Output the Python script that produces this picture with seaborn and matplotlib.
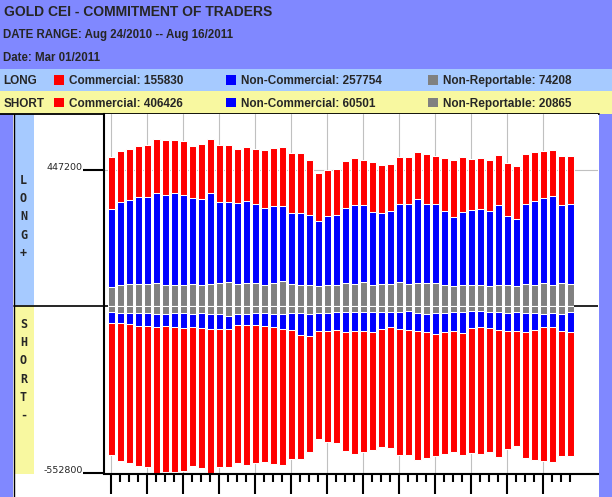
import numpy as np
import pandas as pd
import matplotlib
matplotlib.use("Agg")
import matplotlib.pyplot as plt
from matplotlib.patches import Rectangle
import seaborn as sns

# weekly positions, Aug 24/2010 .. Aug 16/2011
weeks = np.arange(52)

long_comm = [173800, 169400, 169400, 170500, 173800, 179300, 180400, 176000, 177100, 173800,
             182600, 179300, 189200, 189200, 180400, 180400, 183700, 193600, 191400, 194700,
             200200, 200200, 183700, 159500, 154000, 154000, 157300, 155830, 150700, 167200,
             160600, 157300, 157300, 157300, 157300, 167200, 160600, 177100, 190300, 183700,
             170500, 170500, 170500, 167200, 177100, 177100, 167200, 163900, 157300, 154000,
             163900, 160600]
long_noncomm = [257400, 275000, 276100, 286000, 286000, 297000, 299200, 303600, 299200, 282700,
                283800, 299200, 268400, 265100, 267300, 270600, 260700, 254100, 256300, 249700,
                234300, 237600, 231000, 215600, 227700, 231000, 247500, 257754, 254100, 240900,
                234300, 240900, 257400, 264000, 277200, 260700, 260700, 244200, 227700, 240900,
                247500, 250800, 247500, 264000, 227700, 221100, 264000, 277200, 280500, 293700,
                257400, 264000]
long_nonrep = [61600, 68200, 72600, 72600, 72600, 74800, 68200, 68200, 68200, 72600,
               68200, 72600, 74800, 78100, 71500, 74800, 74800, 68200, 74800, 81400,
               71500, 68200, 68200, 64900, 68200, 68200, 74800, 74208, 78100, 68200,
               71500, 71500, 78100, 71500, 74800, 74800, 74800, 68200, 64900, 68200,
               68200, 68200, 64900, 68200, 68200, 64900, 71500, 68200, 74800, 68200,
               74800, 71500]

short_comm = [436700, 456500, 458700, 463100, 466400, 482900, 481800, 477400, 470800, 457600,
              460900, 474100, 454300, 455400, 454300, 460900, 454300, 447700, 449900, 447700,
              424600, 408100, 381700, 355300, 365200, 371800, 391600, 406426, 398200, 388300,
              388300, 398200, 414700, 411400, 424600, 414700, 401500, 401500, 397100, 401500,
              411400, 416900, 407000, 418000, 388300, 378400, 414700, 427900, 441100, 444400,
              411400, 408100]
short_noncomm = [36300, 33000, 36300, 42900, 42900, 41800, 39600, 46200, 49500, 44000,
                 51700, 50600, 50600, 42900, 36300, 36300, 38500, 41800, 44000, 49500,
                 57200, 71500, 72600, 58300, 58300, 59400, 64900, 60501, 61600, 64900,
                 55000, 48400, 55000, 62700, 58300, 59400, 68200, 61600, 62700, 68200,
                 55000, 52800, 52800, 58300, 58300, 61600, 61600, 55000, 41800, 45100,
                 55000, 64900]
short_nonrep = [18700, 22000, 22000, 22000, 22000, 26400, 26400, 24200, 24200, 26400,
                22000, 26400, 26400, 33000, 26400, 26400, 24200, 24200, 26400, 26400,
                22000, 24200, 26400, 24200, 24200, 19800, 20900, 20865, 20900, 20900,
                20900, 20900, 20900, 16500, 24200, 26400, 24200, 24200, 20900, 20900,
                17600, 17600, 20900, 20900, 24200, 20900, 24200, 24200, 27500, 24200,
                27500, 20900]

y_ticks = [447200, -552800]

RED = "#FF0000"
BLUE = "#0000FF"
GRAY = "#808080"
PURPLE = "#8088FF"
LBLUE = "#A6CAFF"
YELLOW = "#F8F8A0"

sns.set_style("ticks")
plt.rcParams["font.family"] = ["Liberation Sans", "DejaVu Sans"]

df = pd.DataFrame({
    "week": weeks,
    "long_gray": np.array(long_nonrep),
    "short_gray": np.array(short_nonrep),
})
df["long_mid"] = df["long_gray"] + np.array(long_noncomm)
df["long_top"] = df["long_mid"] + np.array(long_comm)
df["short_mid"] = df["short_gray"] + np.array(short_noncomm)
df["short_top"] = df["short_mid"] + np.array(short_comm)

fig = plt.figure(figsize=(6.12, 4.97), dpi=100)

# background frame in pixel coords
bg = fig.add_axes([0, 0, 1, 1])
bg.set_xlim(0, 612)
bg.set_ylim(497, 0)
bg.axis("off")


def box(x, y, w, h, c):
    bg.add_patch(Rectangle((x, y), w, h, facecolor=c, lw=0))


box(0, 0, 612, 68.5, PURPLE)
box(0, 68.5, 612, 22.5, LBLUE)
box(0, 91, 612, 22.5, YELLOW)
box(0, 113.5, 13, 384, PURPLE)
box(598.5, 113.5, 14, 384, PURPLE)
box(14, 114, 19.5, 191, LBLUE)
box(14, 305.5, 19.5, 168, YELLOW)
bg.plot([0, 599], [114, 114], color="black", lw=1.3)
bg.plot([13.5, 13.5], [114, 497], color="black", lw=1.0)
bg.plot([14, 104], [305.5, 305.5], color="black", lw=1.2)

bg.text(4, 15.7, "GOLD CEI - COMMITMENT OF TRADERS", fontsize=10, fontweight="bold", va="baseline")
bg.text(3, 37.7, "DATE RANGE: Aug 24/2010 -- Aug 16/2011", fontsize=8.3, fontweight="bold", va="baseline")
bg.text(3, 60.7, "Date: Mar 01/2011", fontsize=8.3, fontweight="bold", va="baseline")

rows = [("LONG", 84.3, 75, long_comm[27], long_noncomm[27], long_nonrep[27]),
        ("SHORT", 106.7, 97.5, short_comm[27], short_noncomm[27], short_nonrep[27])]
for name, base, sq, c, nc, nr in rows:
    bg.text(3.5, base, name, fontsize=8.5, fontweight="bold", va="baseline")
    for x0, col, lab in [(54, RED, f"Commercial: {c}"),
                         (226, BLUE, f"Non-Commercial: {nc}"),
                         (428, GRAY, f"Non-Reportable: {nr}")]:
        box(x0, sq, 10, 9.5, col)
        bg.text(x0 + 15, base, lab, fontsize=8.5, fontweight="bold", va="baseline")

for i, ch in enumerate("LONG+"):
    bg.text(23.5, 180.5 + i * 18.2, ch, fontsize=8.5, fontweight="bold",
            family="DejaVu Sans Mono", ha="center", va="center")
for i, ch in enumerate("SHORT-"):
    bg.text(23.5, 324.5 + i * 18.2, ch, fontsize=8.5, fontweight="bold",
            family="DejaVu Sans Mono", ha="center", va="center")

# main chart
ax = fig.add_axes([104 / 612, 1 - 473.5 / 497, 494 / 612, 359.5 / 497])
ax.set_facecolor("white")

df["neg_short_top"] = -df["short_top"]
df["neg_short_mid"] = -df["short_mid"]
df["neg_short_gray"] = -df["short_gray"]
layers = [("long_top", RED), ("long_mid", BLUE), ("long_gray", GRAY),
          ("neg_short_top", RED), ("neg_short_mid", BLUE), ("neg_short_gray", GRAY)]
for col, c in layers:
    sns.barplot(data=df, x="week", y=col, color=c, saturation=1, width=0.88,
                edgecolor="white", linewidth=0.75, errorbar=None, ax=ax)

x_left, x_right = -0.83, 54.06
ax.set_xlim(x_left, x_right)
ax.set_ylim(-552800, 633600)
ax.set_xlabel("")
ax.set_ylabel("")

ax.hlines(0, x_left, -0.44, color="black", lw=1.2, zorder=3)
ax.hlines(0, len(weeks) - 0.56, x_right, color="black", lw=1.2, zorder=3)

ax.set_xticks(weeks[::4])
ax.set_xticks([w for w in weeks if w % 4], minor=True)
ax.set_xticklabels([])
ax.set_yticks(y_ticks)
ax.set_yticklabels([str(v) for v in y_ticks], fontsize=6.8, family="DejaVu Sans")
plt.setp(ax.get_yticklabels(), va="baseline")
ax.tick_params(axis="y", length=15, width=1.5, pad=0.3, direction="out", left=True, color="black")
ax.tick_params(axis="x", which="major", length=14.4, width=1.5, direction="out", bottom=True, color="black")
ax.tick_params(axis="x", which="minor", length=5.8, width=1.5, direction="out", bottom=True, color="black")

ax.grid(True, which="major", color="#C0C0C0", lw=0.8)
ax.set_axisbelow(True)
for s in ["top", "right"]:
    ax.spines[s].set_visible(False)
for s in ["left", "bottom"]:
    ax.spines[s].set_color("black")
    ax.spines[s].set_linewidth(1.5)

fig.savefig("out.png", dpi=100)
